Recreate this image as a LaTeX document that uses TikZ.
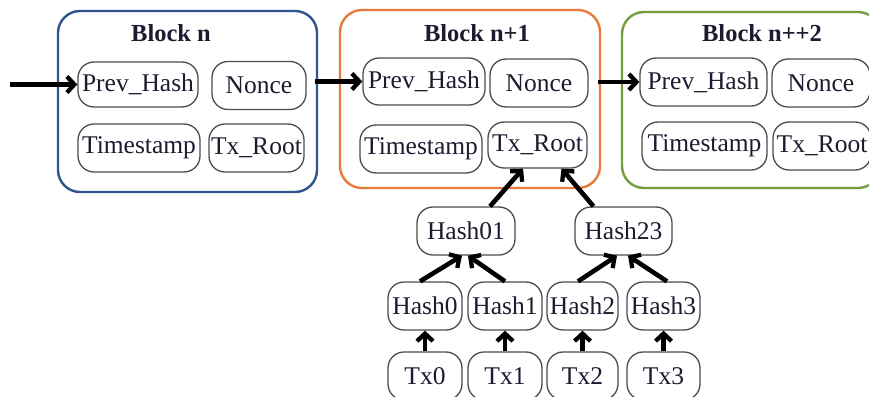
\documentclass[tikz,border=0pt]{standalone}
\usepackage{fontspec}
\setmainfont{Liberation Serif}
\usetikzlibrary{arrows.meta}
\definecolor{bblue}{RGB}{47,85,140}
\definecolor{borange}{RGB}{232,122,62}
\definecolor{bgreen}{RGB}{118,156,64}
\definecolor{txt}{RGB}{28,28,48}
\tikzset{
  blockbox/.style={draw, line width=2.4pt, rounded corners=22pt, inner sep=0pt},
  cell/.style={draw=black!70, line width=1.3pt, rounded corners=16pt, inner sep=0pt,
    text=txt, font=\fontsize{25.5}{28}\selectfont, minimum height=48},
  ttl/.style={text=txt, font=\fontsize{24.5}{28}\selectfont\bfseries, inner sep=0pt},
  arr/.style={line width=4.6pt, -{Straight Barb[length=7.5pt,width=16pt,line width=4.3pt]}}
}
\begin{document}
\begin{tikzpicture}[x=1pt,y=-1pt]
\useasboundingbox[fill=white] (0,0) rectangle (869,396);
% Block n
\node[blockbox, draw=bblue, minimum width=259, minimum height=181] (bn) at (187.5,101.5) {};
\node[ttl] (tn) at (171,33) {Block n};
\node[cell, minimum width=120, minimum height=45] (pn) at (138,84.5) {Prev\_Hash};
\node[cell, minimum width=94] (nn) at (259,85.5) {Nonce};
\node[cell, minimum width=122] (sn) at (139,148) {Timestamp};
\node[cell, minimum width=95] (rn) at (256.5,148) {Tx\_Root};
% Block n+1
\node[blockbox, draw=borange, minimum width=260, minimum height=178] (b1) at (470,99) {};
\node[ttl] (t1) at (477,33) {Block n+1};
\node[cell, minimum width=122, minimum height=47] (p1) at (424,81.5) {Prev\_Hash};
\node[cell, minimum width=98] (n1) at (539,83) {Nonce};
\node[cell, minimum width=122] (s1) at (421,149) {Timestamp};
\node[cell, minimum width=99, minimum height=46] (r1) at (537.5,145) {Tx\_Root};
% Block n++2
\node[blockbox, draw=bgreen, minimum width=258, minimum height=176] (b2) at (751,100) {};
\node[ttl] (t2) at (762,33) {Block n++2};
\node[cell, minimum width=127] (p2) at (703.5,82) {Prev\_Hash};
\node[cell, minimum width=98] (n2) at (821,83) {Nonce};
\node[cell, minimum width=125] (s2) at (704.5,146) {Timestamp};
\node[cell, minimum width=98] (r2) at (822,146) {Tx\_Root};
% Merkle tree
\node[cell, minimum width=98] (h01) at (466,231) {Hash01};
\node[cell, minimum width=97] (h23) at (623.5,231) {Hash23};
\node[cell, minimum width=74] (h0) at (425,306) {Hash0};
\node[cell, minimum width=74] (h1) at (505,306) {Hash1};
\node[cell, minimum width=71] (h2) at (582.5,306) {Hash2};
\node[cell, minimum width=73] (h3) at (663.5,306) {Hash3};
\node[cell, minimum width=74] (x0) at (425,376) {Tx0};
\node[cell, minimum width=74] (x1) at (505,376) {Tx1};
\node[cell, minimum width=71] (x2) at (582.5,376) {Tx2};
\node[cell, minimum width=73] (x3) at (663.5,376) {Tx3};
% chain arrows
\coordinate (start) at (10,84.5);
\draw[arr] (start) -- (pn.west);
\draw[arr] ([xshift=-3pt]bn.east |- p1.west) -- (p1.west);
\draw[arr] ([xshift=-3pt]b1.east |- p2.west) -- (p2.west);
% tree arrows
\draw[arr] ([xshift=24]h01.north) -- ([xshift=-14.5]r1.south);
\draw[arr] ([xshift=-30]h23.north) -- ([xshift=24]r1.south);
\draw[arr] ([xshift=-5]h0.north) -- ([xshift=-4]h01.south);
\draw[arr] (h1.north) -- ([xshift=2]h01.south);
\draw[arr] ([xshift=-4.5]h2.north) -- ([xshift=-6.5]h23.south);
\draw[arr] ([xshift=3.5]h3.north) -- ([xshift=4.5]h23.south);
\draw[arr] (x0.north) -- (h0.south);
\draw[arr] (x1.north) -- (h1.south);
\draw[arr] (x2.north) -- (h2.south);
\draw[arr] (x3.north) -- (h3.south);
\end{tikzpicture}
\end{document}
